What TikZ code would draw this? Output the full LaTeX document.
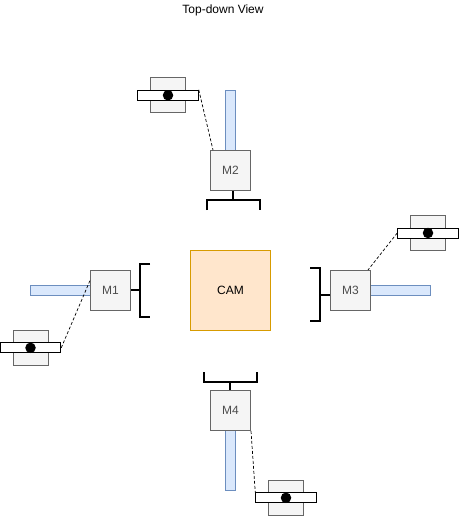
\documentclass[tikz,border=0pt]{standalone}
\usepackage{fontspec}
\setmainfont{Liberation Sans}
\tikzset{
  motor/.style={draw=black!60,fill=black!4,line width=1pt,minimum size=40pt,inner sep=0pt,text=black!70,font=\fontsize{12}{14}\selectfont},
  rod/.style={draw=rodline,fill=rodfill,line width=1pt,inner sep=0pt},
  plate/.style={draw=black!60,fill=black!4,line width=1pt,minimum size=35pt,inner sep=0pt},
  slider/.style={draw=black,fill=white,line width=1pt,minimum width=60.5pt,minimum height=10pt,inner sep=0pt},
  pin/.style={circle,fill=black,minimum size=10.5pt,inner sep=0pt},
  brk/.style={line width=2pt,black},
  link/.style={densely dashed,line width=.7pt}
}
\definecolor{rodline}{HTML}{6C8EBF}
\definecolor{rodfill}{HTML}{DAE8FC}
\definecolor{camline}{HTML}{D79B00}
\definecolor{camfill}{HTML}{FFE6CC}
\begin{document}
\begin{tikzpicture}[x=1pt,y=-1pt]
\useasboundingbox (0,0) rectangle (459,516);

\node [font=\fontsize{12}{14}\selectfont] (title) at (223,10) {Top-down View};
\node [draw=camline,fill=camfill,line width=1pt,minimum size=80pt,inner sep=0pt,font=\fontsize{12}{14}\selectfont] (cam) at (230.5,290.5) {CAM};

% rods go under the motors
\node [rod,minimum width=60pt,minimum height=10pt] (rod1) at (60.5,290.5) {};
\node [rod,minimum width=10pt,minimum height=60pt] (rod2) at (230.5,120.5) {};
\node [rod,minimum width=60pt,minimum height=10pt] (rod3) at (400.5,290.5) {};
\node [rod,minimum width=10pt,minimum height=60pt] (rod4) at (230.5,460.5) {};

\node [motor] (m1) at (110.5,290.5) {M1};
\node [motor] (m2) at (230.5,170.5) {M2};
\node [motor] (m3) at (350.5,290.5) {M3};
\node [motor] (m4) at (230.5,410.5) {M4};

% plates with slider and pin
\node [plate] (plate1) at (30.5,347.8) {};
\node [slider] (bar1) at (30.5,347.8) {};
\node [pin] (pin1) at (30.5,347.8) {};

\node [plate] (plate2) at (168,95.3) {};
\node [slider] (bar2) at (168,95.3) {};
\node [pin] (pin2) at (168,95.3) {};

\node [plate] (plate3) at (428,233) {};
\node [slider] (bar3) at (428,233) {};
\node [pin] (pin3) at (428,233) {};

\node [plate] (plate4) at (286,497.8) {};
\node [slider] (bar4) at (286,497.8) {};
\node [pin] (pin4) at (286,497.8) {};

\draw [link] (bar1.east) -- ([yshift=10pt]m1.west);
\draw [link] (bar2.north east) -- ([xshift=3pt]m2.north west);
\draw [link] (bar3.west) -- ([xshift=-3pt]m3.north east);
\draw [link] (m4.south east) -- (bar4.north west);

% brackets
\coordinate (b1) at (140,290);
\coordinate (b2) at (233,200);
\coordinate (b3) at (320,295);
\coordinate (b4) at (230,382);

\draw [brk] (m1.east |- b1) -- (b1);
\draw [brk] ([shift={(10,-26)}]b1) -- ++(-10,0) -- ++(0,53) -- ++(10,0);
\draw [brk] (b2 |- m2.south) -- (b2);
\draw [brk] ([shift={(-26,10)}]b2) -- ++(0,-10) -- ++(53,0) -- ++(0,10);
\draw [brk] (m3.west |- b3) -- (b3);
\draw [brk] ([shift={(-10,-27)}]b3) -- ++(10,0) -- ++(0,53) -- ++(-10,0);
\draw [brk] (b4) -- (b4 |- m4.north);
\draw [brk] ([shift={(-26,-10)}]b4) -- ++(0,10) -- ++(53,0) -- ++(0,-10);
\end{tikzpicture}
\end{document}
